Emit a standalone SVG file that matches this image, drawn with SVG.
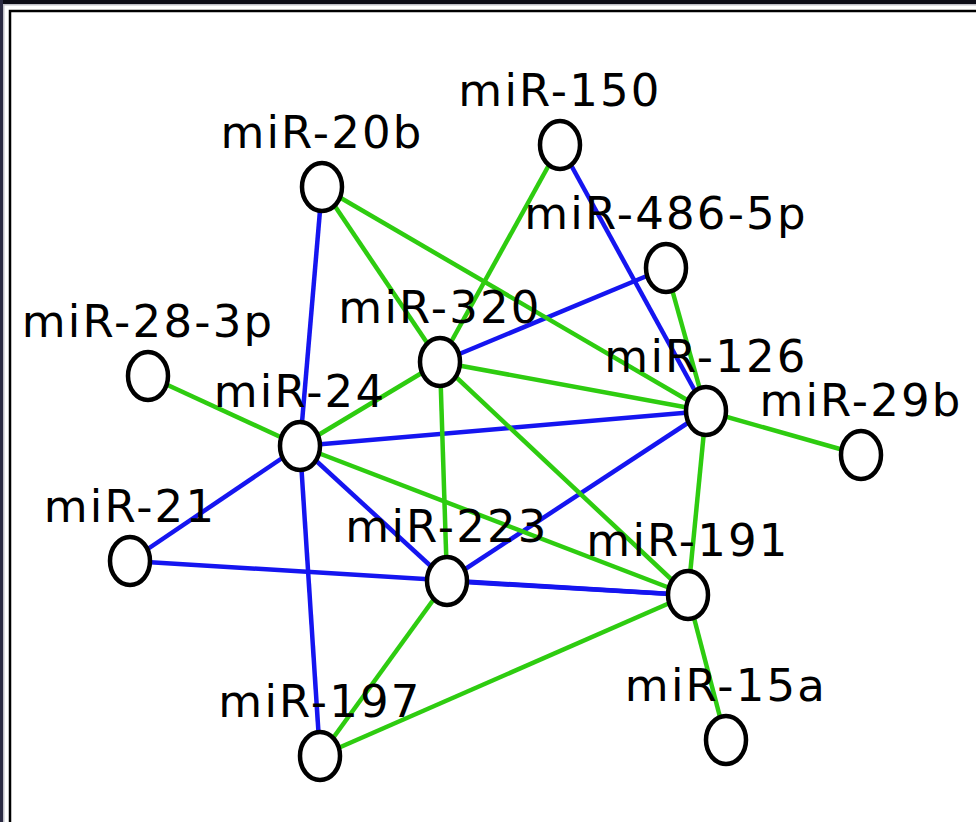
<svg xmlns="http://www.w3.org/2000/svg" width="976" height="822" viewBox="0 0 976 822">
<style>
.e{stroke-width:4.5;stroke-linecap:butt;fill:none}
.b{stroke:#1515f0}
.g{stroke:#2ecc10}
.n ellipse{fill:#fff;stroke:#000;stroke-width:4.5}
.n text{font-family:"DejaVu Sans",sans-serif;font-size:45px;letter-spacing:2.2px;fill:#000;text-anchor:middle}
</style>
<rect width="976" height="822" fill="#fff"/>
<rect x="0" y="0" width="976" height="4" fill="#0c0c16"/>
<rect x="0" y="0" width="3" height="822" fill="#2a2a42"/>
<rect x="3" y="4" width="973" height="1.5" fill="#bfbfc6"/>
<rect x="3" y="4" width="1.5" height="818" fill="#bfbfc6"/>
<path d="M10 822V11H976" fill="none" stroke="#000" stroke-width="2.5"/>
<g id="connectors">
<line class="e b" x1="322" y1="187" x2="300" y2="446"/>
<line class="e b" x1="560" y1="145" x2="706" y2="411"/>
<line class="e b" x1="666" y1="268" x2="440" y2="362"/>
<line class="e b" x1="300" y1="446" x2="706" y2="411"/>
<line class="e b" x1="300" y1="446" x2="130" y2="561"/>
<line class="e b" x1="300" y1="446" x2="447" y2="581"/>
<line class="e b" x1="300" y1="446" x2="320" y2="756"/>
<line class="e b" x1="130" y1="561" x2="688" y2="595"/>
<line class="e b" x1="447" y1="581" x2="706" y2="411"/>
<line class="e b" x1="447" y1="581" x2="688" y2="595"/>
<line class="e g" x1="322" y1="187" x2="440" y2="362"/>
<line class="e g" x1="322" y1="187" x2="706" y2="411"/>
<line class="e g" x1="560" y1="145" x2="440" y2="362"/>
<line class="e g" x1="666" y1="268" x2="706" y2="411"/>
<line class="e g" x1="148" y1="376" x2="300" y2="446"/>
<line class="e g" x1="440" y1="362" x2="300" y2="446"/>
<line class="e g" x1="440" y1="362" x2="706" y2="411"/>
<line class="e g" x1="440" y1="362" x2="447" y2="581"/>
<line class="e g" x1="440" y1="362" x2="688" y2="595"/>
<line class="e g" x1="706" y1="411" x2="861" y2="455"/>
<line class="e g" x1="706" y1="411" x2="688" y2="595"/>
<line class="e g" x1="300" y1="446" x2="688" y2="595"/>
<line class="e g" x1="688" y1="595" x2="726" y2="740"/>
<line class="e g" x1="688" y1="595" x2="320" y2="756"/>
<line class="e g" x1="447" y1="581" x2="320" y2="756"/>
</g>
<g id="miR-20b" class="n"><text x="322" y="148">miR-20b</text><ellipse cx="322" cy="187" rx="20" ry="24"/></g>
<g id="miR-150" class="n"><text x="560" y="106">miR-150</text><ellipse cx="560" cy="145" rx="20" ry="24"/></g>
<g id="miR-486-5p" class="n"><text x="666" y="229">miR-486-5p</text><ellipse cx="666" cy="268" rx="20" ry="24"/></g>
<g id="miR-28-3p" class="n"><text x="148" y="337">miR-28-3p</text><ellipse cx="148" cy="376" rx="20" ry="24"/></g>
<g id="miR-320" class="n"><text x="440" y="323">miR-320</text><ellipse cx="440" cy="362" rx="20" ry="24"/></g>
<g id="miR-126" class="n"><text x="706" y="372">miR-126</text><ellipse cx="706" cy="411" rx="20" ry="24"/></g>
<g id="miR-29b" class="n"><text x="861" y="416">miR-29b</text><ellipse cx="861" cy="455" rx="20" ry="24"/></g>
<g id="miR-24" class="n"><text x="300" y="407">miR-24</text><ellipse cx="300" cy="446" rx="20" ry="24"/></g>
<g id="miR-21" class="n"><text x="130" y="522">miR-21</text><ellipse cx="130" cy="561" rx="20" ry="24"/></g>
<g id="miR-223" class="n"><text x="447" y="542">miR-223</text><ellipse cx="447" cy="581" rx="20" ry="24"/></g>
<g id="miR-191" class="n"><text x="688" y="556">miR-191</text><ellipse cx="688" cy="595" rx="20" ry="24"/></g>
<g id="miR-15a" class="n"><text x="726" y="701">miR-15a</text><ellipse cx="726" cy="740" rx="20" ry="24"/></g>
<g id="miR-197" class="n"><text x="320" y="717">miR-197</text><ellipse cx="320" cy="756" rx="20" ry="24"/></g>
</svg>
